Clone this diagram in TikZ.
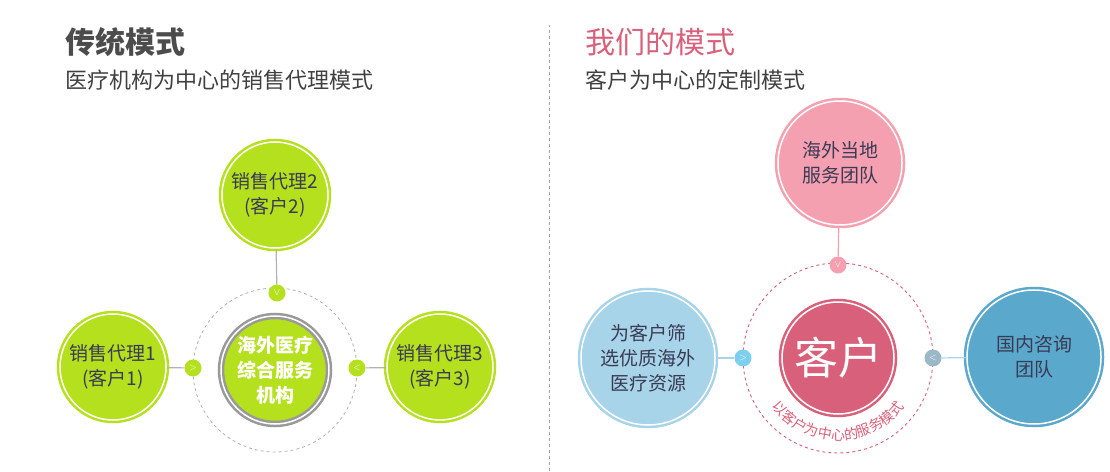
\documentclass[tikz,border=0pt]{standalone}
\usepackage{fontspec}
\setmainfont{Noto Sans CJK SC}
\usetikzlibrary{decorations.text}
\definecolor{lime}{HTML}{B5E01E}
\definecolor{pk}{HTML}{F5A0B0}
\definecolor{rose}{HTML}{D9607A}
\definecolor{lb}{HTML}{A7D4E8}
\definecolor{bl}{HTML}{5AA8CC}
\definecolor{chb}{HTML}{7DCFF0}
\definecolor{chg}{HTML}{9BB8C8}
\definecolor{txt}{HTML}{3A3A55}
\tikzset{
 ball/.style={circle,minimum size=#1,inner sep=0pt,align=center,double=white,double distance=1.5pt,line width=2.5pt},
 chev/.style={circle,minimum size=17pt,inner sep=0pt,text=white,font=\fontsize{10}{10}\selectfont},
 link/.style={line width=1.2pt}
}
\begin{document}
\begin{tikzpicture}[x=1pt,y=1pt]
\useasboundingbox (0,0) rectangle (1110,471);
\draw[gray!70,dashed,line width=0.8pt] (549,0) -- (549,446);
% titles
\node[anchor=west,text=black!70,font=\fontsize{30}{30}\selectfont\bfseries] (t1) at (62,429) {传统模式};
\node[anchor=west,text=black!75,font=\fontsize{22}{22}\selectfont] (s1) at (62,391) {医疗机构为中心的销售代理模式};
\node[anchor=west,text=rose,font=\fontsize{30}{30}\selectfont] (t2) at (582,429) {我们的模式};
\node[anchor=west,text=black!75,font=\fontsize{22}{22}\selectfont] (s2) at (582,391) {客户为中心的定制模式};
% left
\draw[gray!60,dashed,line width=0.8pt] (275,101) circle (82);
\node[ball=108pt,draw=gray!80,fill=lime,text=white,font=\fontsize{19}{25}\selectfont\bfseries] (c) at (275,101) {海外医疗\\综合服务\\机构};
\node[ball=106pt,draw=lime,fill=lime,text=txt,font=\fontsize{19}{25}\selectfont] (a2) at (275,276) {销售代理2\\(客户2)};
\node[ball=106pt,draw=lime,fill=lime,text=txt,font=\fontsize{19}{25}\selectfont] (a1) at (113,104) {销售代理1\\(客户1)};
\node[ball=106pt,draw=lime,fill=lime,text=txt,font=\fontsize{19}{25}\selectfont] (a3) at (440,104) {销售代理3\\(客户3)};
\node[chev,fill=lime] (k2) at (277,178) {$\vee$};
\node[chev,fill=lime] (k1) at (193,103) {$>$};
\node[chev,fill=lime] (k3) at (357,103) {$<$};
\draw[link,gray!60] (a2) -- (k2);
\draw[link,gray!60] (a1) -- (k1);
\draw[link,gray!60] (a3) -- (k3);
% right
\draw[rose,dashed,line width=0.9pt] (838,113) circle (95);
\node[ball=112pt,draw=rose,fill=rose,text=white,font=\fontsize{44}{44}\selectfont] (u) at (838,113) {客户};
\node[ball=124pt,draw=pk,fill=pk,text=txt,font=\fontsize{19}{25}\selectfont] (b1) at (840,308) {海外当地\\服务团队};
\node[ball=134pt,draw=lb,fill=lb,text=txt,font=\fontsize{19}{25}\selectfont] (b2) at (648,113) {为客户筛\\选优质海外\\医疗资源};
\node[ball=134pt,draw=bl,fill=bl,text=txt,font=\fontsize{19}{25}\selectfont] (b3) at (1034,114) {国内咨询\\团队};
\node[chev,fill=pk] (q1) at (838,206) {$\vee$};
\node[chev,fill=chb] (q2) at (743,113) {$>$};
\node[chev,fill=chg] (q3) at (933,113) {$<$};
\draw[link,pk] (b1) -- (q1);
\draw[link,lb] (b2) -- (q2);
\draw[link,lb] (b3) -- (q3);
\path[decorate,decoration={text along path,text align=center,text={|\fontsize{14}{14}\selectfont\color{rose}|以客户为中心的服务模式}}]
 ([shift={(205:82)}]838,113) arc (205:335:82);
\end{tikzpicture}
\end{document}
